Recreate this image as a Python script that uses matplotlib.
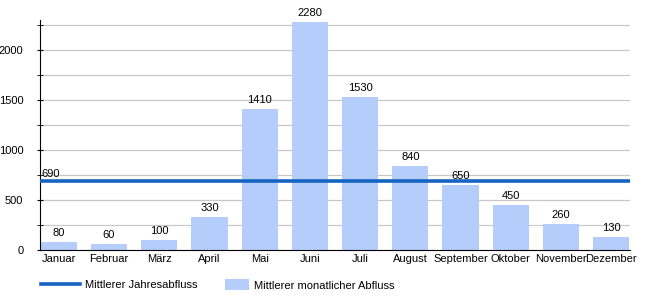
import matplotlib
matplotlib.use('Agg')
import matplotlib.pyplot as plt
import numpy as np

plt.rcParams['font.family'] = ['Liberation Sans', 'DejaVu Sans']
plt.rcParams['font.size'] = 8

monate = ['Januar', 'Februar', 'März', 'April', 'Mai', 'Juni', 'Juli',
          'August', 'September', 'Oktober', 'November', 'Dezember']
abfluss = [80, 60, 100, 330, 1410, 2280, 1530, 840, 650, 450, 260, 130]
jahresabfluss = 690

fig = plt.figure(figsize=(6.5, 3), dpi=100)
ax = fig.add_axes([0.0615, 0.1667, 0.9077, 0.7666])

x = np.arange(len(monate))
bars = ax.bar(x, abfluss, width=0.72, color='#b5cdfb', zorder=2)
linie = ax.axhline(jahresabfluss, color='#1565c0', lw=2.6, zorder=3)

for xi, v in zip(x, abfluss):
    ax.text(xi, v + 40, str(v), ha='center', va='bottom', fontsize=8)
ax.text(-0.34, jahresabfluss + 15, str(jahresabfluss), ha='left', va='bottom', fontsize=8)

ax.set_xlim(-0.375, 11.375)
ax.set_ylim(0, 2300)
ax.set_xticks(x)
ax.set_xticklabels(monate)
ax.set_yticks([0, 500, 1000, 1500, 2000])
ax.set_yticks(np.arange(250, 2300, 500), minor=True)
ax.grid(axis='y', which='both', color='#c8c8c8', lw=0.9, zorder=0)
ax.tick_params(axis='x', length=0, pad=3)
ax.tick_params(axis='y', which='both', length=4, direction='inout', pad=10)
for s in ['top', 'right']:
    ax.spines[s].set_visible(False)

# zwei Legenden, damit die Symbole unterschiedlich breit sind
leg1 = fig.legend([linie], ['Mittlerer Jahresabfluss'], loc='center left',
                  bbox_to_anchor=(0.063, 0.05), frameon=False, borderpad=0,
                  borderaxespad=0, handlelength=3.5, handletextpad=0.45, fontsize=8)
leg2 = fig.legend([bars], ['Mittlerer monatlicher Abfluss'], loc='center left',
                  bbox_to_anchor=(0.346, 0.05), frameon=False, borderpad=0,
                  borderaxespad=0, handlelength=2.2, handleheight=1.15,
                  handletextpad=0.45, fontsize=8)

fig.savefig('out.png', dpi=100)
